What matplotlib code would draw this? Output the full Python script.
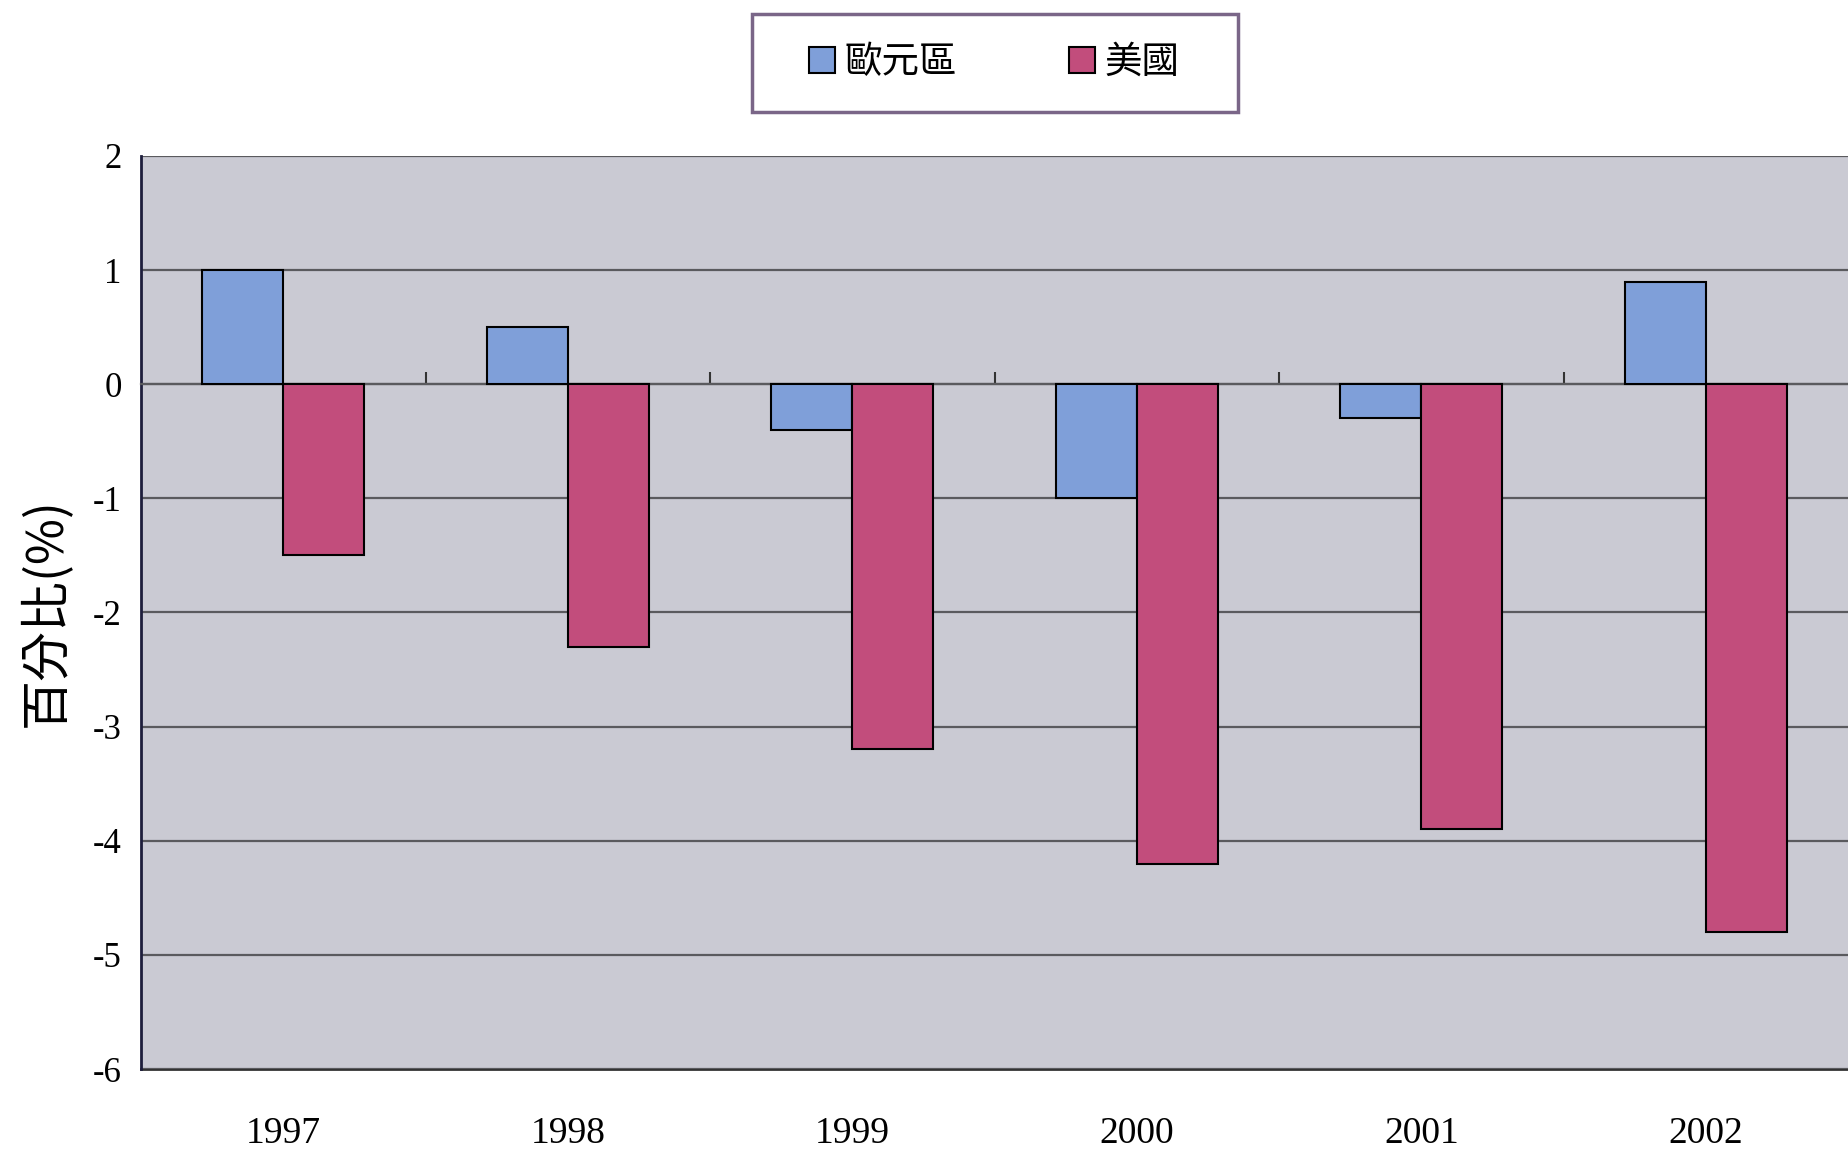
# Euro area vs United States, percent by year (bar chart)
import matplotlib
matplotlib.use('Agg')
import matplotlib.pyplot as plt
from matplotlib.patches import Rectangle
import numpy as np

plt.rcParams['font.family'] = ['Noto Sans CJK TC', 'DejaVu Sans']
plt.rcParams['axes.unicode_minus'] = False

years = ['1997', '1998', '1999', '2000', '2001', '2002']
euro_area = [1.0, 0.5, -0.4, -1.0, -0.3, 0.9]
usa = [-1.5, -2.3, -3.2, -4.2, -3.9, -4.8]
series_names = ['歐元區', '美國']

fig = plt.figure(figsize=(18.48, 11.53), dpi=100)
ax = fig.add_axes([141 / 1848, 84 / 1153, 1 - 141 / 1848, 913 / 1153])
ax.set_facecolor('#cacad3')

x = np.arange(len(years))
w = 0.285
ax.bar(x - w / 2, euro_area, w, color='#7f9fd9', edgecolor='black', linewidth=1.5,
       label=series_names[0], zorder=3)
ax.bar(x + w / 2, usa, w, color='#c24d7c', edgecolor='black', linewidth=1.5,
       label=series_names[1], zorder=3)

ax.set_xlim(-0.5, len(years) - 0.5)
ax.set_ylim(-6, 2)
ax.set_yticks(range(-6, 3))
ax.yaxis.grid(True, color='#5a5a5e', linewidth=1.6, zorder=1)
ax.tick_params(axis='y', length=0, pad=14, labelsize=25)
for lab in ax.get_yticklabels():
    lab.set_family(['Liberation Serif', 'DejaVu Serif'])

# category axis crosses at zero, tick marks between categories
ax.spines['bottom'].set_position(('data', 0))
ax.spines['bottom'].set_color('#5a5a5e')
ax.spines['bottom'].set_linewidth(1.6)
ax.set_xticks(x[:-1] + 0.5)
ax.set_xticklabels([])
ax.tick_params(axis='x', direction='in', length=9, width=1.5, color='#333333')
ax.spines['top'].set_visible(False)
ax.spines['right'].set_visible(False)
ax.spines['left'].set_color('#1e1e3c')
ax.spines['left'].set_linewidth(2)

sec = ax.secondary_xaxis('bottom')
sec.set_xticks(x, labels=years)
sec.tick_params(length=0, pad=34, labelsize=27)
sec.spines['bottom'].set_color('#333333')
sec.spines['bottom'].set_linewidth(2)
for lab in sec.get_xticklabels():
    lab.set_family(['Liberation Serif', 'DejaVu Serif'])

ax.set_ylabel('百分比(%)', fontsize=36, rotation=90, ha='center', va='center')
ax.yaxis.set_label_coords(-0.055, 0.5)

# legend box
fig.patches.append(Rectangle((752 / 1848, 1 - 112 / 1153), 486 / 1848, 98 / 1153,
                             transform=fig.transFigure, fill=False,
                             edgecolor='#7a6688', linewidth=2.5))
fig.legend(loc='center', bbox_to_anchor=(0.538, 0.946), ncol=2, frameon=False,
           fontsize=27, handlelength=0.7, handleheight=0.7, handletextpad=0.25,
           columnspacing=3.0)

fig.savefig('out.png', dpi=100, facecolor='white')
